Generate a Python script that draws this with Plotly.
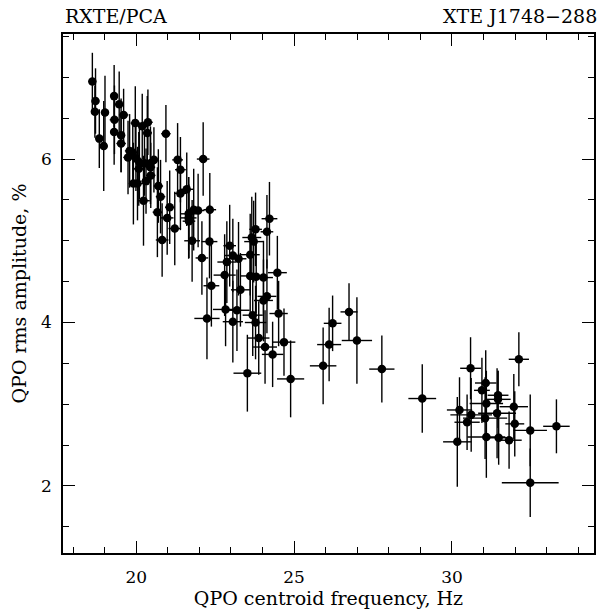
import plotly.graph_objects as go

# QPO centroid frequency (Hz)
freq = [18.61, 18.71, 18.69, 18.83, 18.97, 19.01, 19.30, 19.46, 19.31, 19.60,
        19.30, 19.52, 19.52, 19.97, 20.19, 20.37, 20.35, 20.94, 19.79, 19.89,
        19.74, 19.99, 20.10, 20.26, 20.45, 20.56, 20.08, 20.45, 20.46, 19.91,
        20.04, 20.31, 20.70, 20.23, 20.77, 21.06, 20.67, 21.31, 22.12, 21.40,
        21.60, 21.40, 20.98, 21.22, 20.82, 21.82, 21.96, 22.33, 21.66, 21.66,
        21.67, 21.77, 22.32, 22.08, 22.38, 22.24, 22.96, 23.06, 23.24, 22.87,
        22.80, 23.30, 22.83, 23.19, 24.22, 23.78, 24.14, 23.66, 23.72, 23.61,
        23.61, 23.80, 24.03, 24.47, 24.14, 24.03, 23.06, 23.69, 23.78, 24.51,
        23.88, 24.08, 24.32, 24.68, 23.52, 24.89, 26.74, 26.22, 26.99, 26.11,
        25.92, 27.78, 29.06, 30.24, 32.12, 30.59, 31.07, 30.95, 31.46, 31.46,
        31.09, 31.96, 30.61, 31.43, 31.05, 30.48, 31.99, 32.48, 33.31, 30.17,
        31.09, 31.48, 31.81, 32.48]

# QPO rms amplitude (%)
amp = [6.95, 6.71, 6.58, 6.25, 6.16, 6.57, 6.77, 6.67, 6.48, 6.54,
       6.33, 6.29, 6.19, 6.44, 6.40, 6.45, 6.32, 6.31, 6.10, 6.08,
       6.02, 6.01, 5.96, 5.95, 5.95, 5.99, 5.88, 5.90, 5.80, 5.70,
       5.70, 5.73, 5.67, 5.49, 5.54, 5.41, 5.35, 5.99, 6.00, 5.87,
       5.63, 5.58, 5.28, 5.15, 5.01, 5.38, 5.37, 5.38, 5.33, 5.28,
       5.24, 5.00, 4.99, 4.79, 4.45, 4.05, 4.94, 4.82, 4.78, 4.74,
       4.58, 4.40, 4.16, 4.15, 5.27, 5.14, 5.11, 5.04, 4.99, 4.83,
       4.57, 4.56, 4.55, 4.61, 4.32, 4.27, 4.01, 4.09, 4.00, 4.11,
       3.81, 3.70, 3.61, 3.76, 3.38, 3.31, 4.13, 3.99, 3.78, 3.73,
       3.47, 3.43, 3.07, 2.93, 3.55, 3.44, 3.26, 3.17, 3.11, 3.06,
       3.01, 2.97, 2.87, 2.89, 2.83, 2.78, 2.76, 2.68, 2.73, 2.54,
       2.60, 2.59, 2.56, 2.04]

freq_err = [0.12, 0.12, 0.10, 0.12, 0.12, 0.12, 0.12, 0.12, 0.15, 0.15,
            0.12, 0.12, 0.15, 0.15, 0.15, 0.15, 0.15, 0.15, 0.15, 0.15,
            0.15, 0.15, 0.15, 0.15, 0.15, 0.15, 0.20, 0.15, 0.15, 0.15,
            0.20, 0.15, 0.15, 0.20, 0.15, 0.15, 0.15, 0.17, 0.20, 0.17,
            0.20, 0.20, 0.20, 0.20, 0.20, 0.20, 0.20, 0.20, 0.25, 0.25,
            0.20, 0.25, 0.25, 0.20, 0.25, 0.40, 0.20, 0.25, 0.25, 0.30,
            0.35, 0.30, 0.40, 0.40, 0.25, 0.20, 0.20, 0.30, 0.30, 0.30,
            0.30, 0.30, 0.30, 0.30, 0.30, 0.30, 0.32, 0.32, 0.34, 0.29,
            0.34, 0.38, 0.34, 0.36, 0.44, 0.43, 0.27, 0.28, 0.48, 0.38,
            0.42, 0.40, 0.44, 0.40, 0.32, 0.33, 0.34, 0.25, 0.33, 0.40,
            0.53, 0.45, 0.66, 0.60, 0.70, 0.40, 0.30, 0.53, 0.42, 0.45,
            0.60, 0.40, 0.40, 0.90]

amp_err = [0.35, 0.40, 0.32, 0.36, 0.55, 0.45, 0.38, 0.40, 0.42, 0.32,
           0.40, 0.45, 0.35, 0.45, 0.40, 0.40, 0.45, 0.35, 0.45, 0.40,
           0.45, 0.40, 0.45, 0.40, 0.45, 0.40, 0.45, 0.45, 0.40, 0.50,
           0.45, 0.40, 0.45, 0.55, 0.45, 0.45, 0.55, 0.45, 0.45, 0.40,
           0.45, 0.45, 0.45, 0.45, 0.45, 0.50, 0.45, 0.45, 0.45, 0.50,
           0.45, 0.50, 0.45, 0.45, 0.50, 0.50, 0.50, 0.45, 0.45, 0.50,
           0.50, 0.45, 0.45, 0.50, 0.45, 0.45, 0.45, 0.50, 0.50, 0.50,
           0.50, 0.45, 0.45, 0.45, 0.45, 0.50, 0.50, 0.50, 0.45, 0.40,
           0.45, 0.45, 0.40, 0.41, 0.47, 0.47, 0.35, 0.34, 0.53, 0.45,
           0.47, 0.41, 0.42, 0.40, 0.33, 0.38, 0.40, 0.40, 0.30, 0.35,
           0.40, 0.40, 0.45, 0.55, 0.50, 0.34, 0.40, 0.44, 0.33, 0.55,
           0.50, 0.33, 0.35, 0.42]

x_range = [17.68, 34.5]
y_range = [1.18, 7.53]
FONT = "DejaVu Serif"

fig = go.Figure()
fig.add_trace(go.Scatter(
    x=freq, y=amp, mode="markers",
    marker=dict(color="black", size=8.5),
    error_x=dict(type="data", array=freq_err, color="black", thickness=1.4, width=0),
    error_y=dict(type="data", array=amp_err, color="black", thickness=1.4, width=0),
    showlegend=False, hoverinfo="skip"))
# invisible trace on mirrored axes so they get drawn
fig.add_trace(go.Scatter(x=[x_range[0]], y=[y_range[0]], xaxis="x2", yaxis="y2",
                         mode="markers", marker=dict(opacity=0), showlegend=False,
                         hoverinfo="skip"))

tick_common = dict(ticks="inside", tickcolor="black", tickwidth=1.3, ticklen=12,
                   showgrid=False, zeroline=False)

fig.update_layout(
    width=613, height=614,
    margin=dict(l=63, r=19, t=34, b=50),
    plot_bgcolor="white", paper_bgcolor="white",
    font=dict(family=FONT, size=17, color="black"),
    xaxis=dict(range=x_range, tickmode="linear", tick0=0, dtick=5,
               minor=dict(dtick=1, ticklen=6, ticks="inside", tickcolor="black", tickwidth=1.3),
               showline=True, linecolor="black", linewidth=1.5, mirror=True,
               ticklabelstandoff=8,
               title=dict(text="QPO centroid frequency, Hz", font=dict(size=19), standoff=2),
               **tick_common),
    yaxis=dict(range=y_range, tickmode="linear", tick0=0, dtick=2,
               minor=dict(dtick=0.5, ticklen=6, ticks="inside", tickcolor="black", tickwidth=1.3),
               showline=True, linecolor="black", linewidth=1.5, mirror=True,
               ticklabelstandoff=6,
               title=dict(text="QPO rms amplitude, %", font=dict(size=19), standoff=9),
               **tick_common),
    xaxis2=dict(range=x_range, overlaying="x", side="top", tickmode="linear", tick0=0, dtick=5,
                showticklabels=False,
                minor=dict(dtick=1, ticklen=6, ticks="inside", tickcolor="black", tickwidth=1.3),
                **tick_common),
    yaxis2=dict(range=y_range, overlaying="y", side="right", tickmode="linear", tick0=0, dtick=2,
                showticklabels=False,
                minor=dict(dtick=0.5, ticklen=6, ticks="inside", tickcolor="black", tickwidth=1.3),
                **tick_common),
    annotations=[
        dict(text="RXTE/PCA", xref="paper", yref="paper", x=0, y=1,
             xanchor="left", yanchor="bottom", yshift=5, showarrow=False,
             font=dict(size=19, family=FONT)),
        dict(text="XTE J1748\u2212288", xref="paper", yref="paper", x=1, y=1,
             xanchor="right", yanchor="bottom", yshift=5, xshift=5, showarrow=False,
             font=dict(size=19, family=FONT)),
    ],
)

fig.write_html("out.html")
